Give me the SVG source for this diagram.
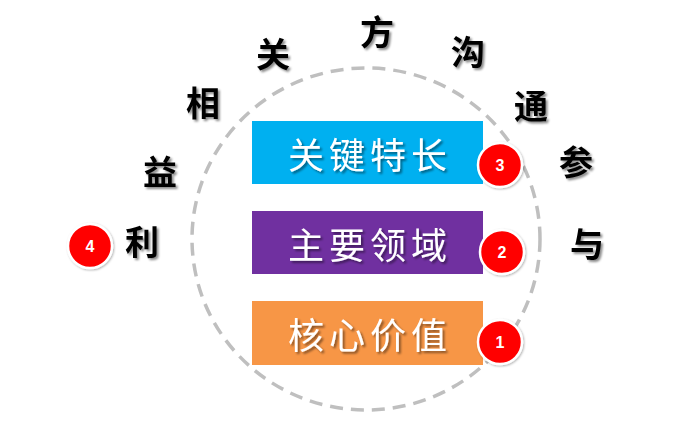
<svg xmlns="http://www.w3.org/2000/svg" width="691" height="424" viewBox="0 0 691 424">
<defs>
<filter id="sh" x="-30%" y="-30%" width="160%" height="160%">
<feDropShadow dx="2" dy="2" stdDeviation="1.2" flood-color="#000" flood-opacity="0.45"/>
</filter>
<filter id="bs" x="-30%" y="-30%" width="160%" height="160%">
<feDropShadow dx="1" dy="1" stdDeviation="1" flood-color="#000" flood-opacity="0.3"/>
</filter>
<style>
.ring{fill:none;stroke:#BFBFBF;stroke-width:3.5;stroke-dasharray:13 8}
.lbl{font-family:"Noto Sans CJK SC","Noto Sans",sans-serif;font-size:36px;fill:#fff;text-anchor:middle;dominant-baseline:central;letter-spacing:5px;filter:url(#sh)}
.ch{font-family:"Noto Sans CJK SC","Noto Sans",sans-serif;font-size:34px;font-weight:bold;fill:#000;text-anchor:middle;dominant-baseline:central;filter:url(#sh)}
.badge{fill:#FF0000;stroke:#fff;stroke-width:2.5;filter:url(#bs)}
.num{font-family:"Liberation Sans",Arial,sans-serif;font-size:16px;font-weight:bold;fill:#fff;text-anchor:middle;dominant-baseline:central}
</style>
</defs>
<rect width="691" height="424" fill="#fff"/>
<g id="connectors">
<ellipse class="ring" cx="366" cy="239" rx="174" ry="171"/>
</g>
<g id="box-key">
<rect x="252" y="121" width="231" height="63" fill="#00B0F0"/>
<text class="lbl" x="370" y="153">关键特长</text>
</g>
<g id="box-domain">
<rect x="252" y="211" width="231" height="63" fill="#7030A0"/>
<text class="lbl" x="370" y="243">主要领域</text>
</g>
<g id="box-core">
<rect x="252" y="301" width="231" height="64" fill="#F79646"/>
<text class="lbl" x="370" y="333">核心价值</text>
</g>
<g id="badge-3"><circle class="badge" cx="500" cy="165" r="22"/><text class="num" x="500" y="165">3</text></g>
<g id="badge-2"><circle class="badge" cx="502" cy="252" r="22"/><text class="num" x="502" y="252">2</text></g>
<g id="badge-1"><circle class="badge" cx="500" cy="342" r="22"/><text class="num" x="500" y="342">1</text></g>
<g id="badge-4"><circle class="badge" cx="90" cy="246" r="22"/><text class="num" x="90" y="246">4</text></g>
<g id="ring-text">
<text class="ch" x="142" y="240">利</text>
<text class="ch" x="160" y="170">益</text>
<text class="ch" x="203" y="101">相</text>
<text class="ch" x="273" y="52">关</text>
<text class="ch" x="377" y="30">方</text>
<text class="ch" x="468" y="50">沟</text>
<text class="ch" x="531" y="104">通</text>
<text class="ch" x="576" y="160">参</text>
<text class="ch" x="587" y="242">与</text>
</g>
</svg>
